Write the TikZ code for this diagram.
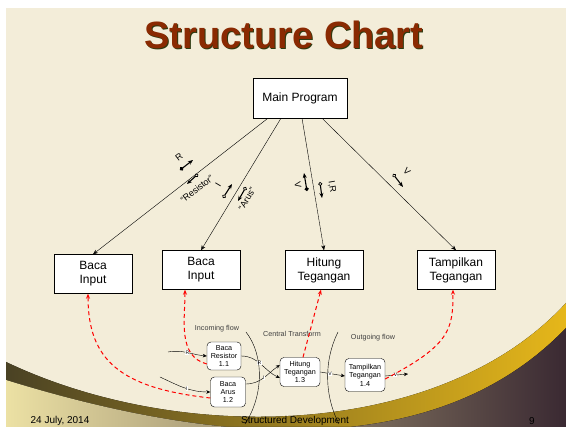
\documentclass[tikz,border=0pt]{standalone}
\usepackage{fontspec}
\setmainfont{Liberation Sans}
\usetikzlibrary{arrows.meta}
\definecolor{slidebg}{HTML}{F3EDD9}
\definecolor{titlecol}{HTML}{8A2A02}
\definecolor{titleline}{HTML}{2C3A10}
\definecolor{bandolive}{HTML}{4A4224}
\definecolor{bandgold}{HTML}{E6B71A}
\definecolor{bandpale}{HTML}{ECE1A4}
\definecolor{banddark}{HTML}{3A2932}

\begin{document}
\begin{tikzpicture}[x=1pt,y=-1pt,
  module/.style={draw,fill=white,minimum width=78pt,minimum height=39pt,align=center,inner sep=1pt,font=\fontsize{12}{14}\selectfont},
  proc/.style={draw,fill=white,rounded corners=4pt,align=center,inner sep=0.5pt,font=\fontsize{7.2}{8.4}\selectfont},
  call/.style={-{Stealth[length=5pt,width=4pt]}},
  flow/.style={-{Stealth[length=4pt,width=3.5pt]}},
  link/.style={red,line width=1pt,dash pattern=on 4pt off 3pt,-{Stealth[length=5pt,width=4pt]}},
  data/.style={line width=1.1pt,{Circle[open,length=4pt,width=4pt,line width=0.7pt]}-{Stealth[length=5pt,width=4pt]}},
  flag/.style={line width=1.1pt,{Circle[length=4pt,width=4pt]}-{Stealth[length=5pt,width=4pt]}},
  lbl/.style={inner sep=0.3pt,font=\fontsize{9}{10}\selectfont},
  note/.style={inner sep=0.5pt,font=\fontsize{7.2}{8}\selectfont,text=black!75},
  tag/.style={fill=white,inner sep=0.3pt,font=\fontsize{5}{5}\selectfont}
]
  % slide background
  \useasboundingbox (0,0) rectangle (566,427);
  \fill[white] (0,0) rectangle (566,427);
  \fill[slidebg] (6,8) rectangle (566,427);
  \fill[left color=bandolive,middle color=bandgold!80!black,right color=bandgold]
    (6,362) .. controls (180,445) and (440,440) .. (566,303) -- (566,427) -- (6,427) -- cycle;
  \fill[left color=bandpale,middle color=banddark!70!brown,right color=banddark]
    (6,380) .. controls (200,440) and (430,470) .. (566,328) -- (566,427) -- (6,427) -- cycle;

  % title
  \node[anchor=base,text=titleline,font=\fontsize{38}{40}\selectfont\bfseries] at (285,50) {Structure Chart};
  \node[anchor=base,text=titlecol,font=\fontsize{38}{40}\selectfont\bfseries] (title) at (284,49) {Structure Chart};

  % structure chart
  \node[module,minimum width=94pt,minimum height=40pt] (main) at (300,98) {Main Program};
  \node[module] (in1) at (93,274) {Baca\\Input};
  \node[module] (in2) at (201,270) {Baca\\Input};
  \node[module] (in3) at (324,270) {Hitung\\Tegangan};
  \node[module] (in4) at (456,270) {Tampilkan\\Tegangan};
  \draw[call] ([xshift=-32pt]main.south) -- (in1.north);
  \draw[call] ([xshift=-19pt]main.south) -- (in2.north);
  \draw[call] ([xshift=2pt]main.south) -- (in3.north);
  \draw[call] ([xshift=22pt]main.south) -- (in4.north);

  % couples
  \coordinate (rA) at (180,170);  \coordinate (rB) at (193,160);
  \coordinate (resA) at (198,174); \coordinate (resB) at (187,184);
  \coordinate (iA) at (223,198);  \coordinate (iB) at (232,184);
  \coordinate (arA) at (246,187); \coordinate (arB) at (238,201);
  \coordinate (vA) at (307,191);  \coordinate (vB) at (304,173);
  \coordinate (irA) at (320,182); \coordinate (irB) at (322,198);
  \coordinate (voA) at (393,174); \coordinate (voB) at (403,187);
  \draw[flag] (rA) -- (rB);
  \draw[data] (resA) -- (resB);
  \draw[data] (iA) -- (iB);
  \draw[data] (arA) -- (arB);
  \draw[flag] (vA) -- (vB);
  \draw[data] (irA) -- (irB);
  \draw[data] (voA) -- (voB);
  \node[lbl,rotate=38] (rL) at (179,157) {R};
  \node[lbl,rotate=38] (resL) at (197,189) {``Resistor''};
  \node[lbl,rotate=59] (iL) at (218,185) {I};
  \node[lbl,rotate=59] (arL) at (247,199) {``Arus''};
  \node[lbl,rotate=-80] (vL) at (298,185) {V};
  \node[lbl,rotate=-80] (irL) at (332,187) {I,R};
  \node[lbl,rotate=-45] (voL) at (407,171) {V};

  % data flow part
  \node[note] (incoming) at (217,329) {Incoming flow};
  \node[note] (central) at (292,334) {Central Transform};
  \node[note] (outgoing) at (373,338) {Outgoing flow};
  \node[proc,minimum width=34pt,minimum height=28pt] (p11) at (224,356) {Baca\\Resistor\\1.1};
  \node[proc,minimum width=35pt,minimum height=30pt] (p12) at (228,392) {Baca\\Arus\\1.2};
  \node[proc,minimum width=40pt,minimum height=29pt] (p13) at (300,372) {Hitung\\Tegangan\\1.3};
  \node[proc,minimum width=40pt,minimum height=33pt] (p14) at (365,375) {Tampilkan\\Tegangan\\1.4};
  \coordinate (rin) at (168,352);
  \coordinate (iin) at (160,377);
  \coordinate (vout) at (408,374);
  \draw[flow] (rin) to[out=10,in=175] node[tag,pos=0.5] {R} (p11.west);
  \draw[flow] (iin) to[out=-25,in=180] node[tag,pos=0.55] {I} (p12.west);
  \draw[flow] (p11.east) to[out=0,in=155] node[tag,pos=0.45] {R} ([yshift=-6pt]p13.west);
  \draw[flow] ([yshift=8pt]p12.east) to[out=0,in=215] node[tag,pos=0.5] {I} ([yshift=7pt]p13.west);
  \draw[flow] (p13.east) -- node[tag,pos=0.4] {V} ([yshift=-1pt]p14.west);
  \draw[flow] ([yshift=-1pt]p14.east) -- node[tag,pos=0.45] {V} (vout);

  % transform boundaries
  \draw[thin] (246,332) .. controls (264,355) and (264,395) .. (245,424);
  \draw[thin] (338,332) .. controls (324,360) and (324,395) .. (339,424);

  % links back to the modules
  \draw[link] ([yshift=-8pt]p11.west) to[out=165,in=-90] ([xshift=-16pt]in2.south);
  \draw[link] ([yshift=-6pt]p12.west) .. controls (120,388) and (88,360) .. ([xshift=-5pt]in1.south);
  \draw[link] ([xshift=3pt]p13.north) -- ([xshift=-3pt]in3.south);
  \draw[link] ([yshift=-4pt]p14.east) .. controls (450,345) and (453,330) .. ([xshift=-3pt]in4.south);

  % footer
  \node[font=\fontsize{10}{11}\selectfont] (date) at (60,421) {24 July, 2014};
  \node[font=\fontsize{10}{11}\selectfont] (course) at (295,421) {Structured Development};
  \node[font=\fontsize{10}{11}\selectfont] (page) at (532,421) {9};
\end{tikzpicture}
\end{document}
